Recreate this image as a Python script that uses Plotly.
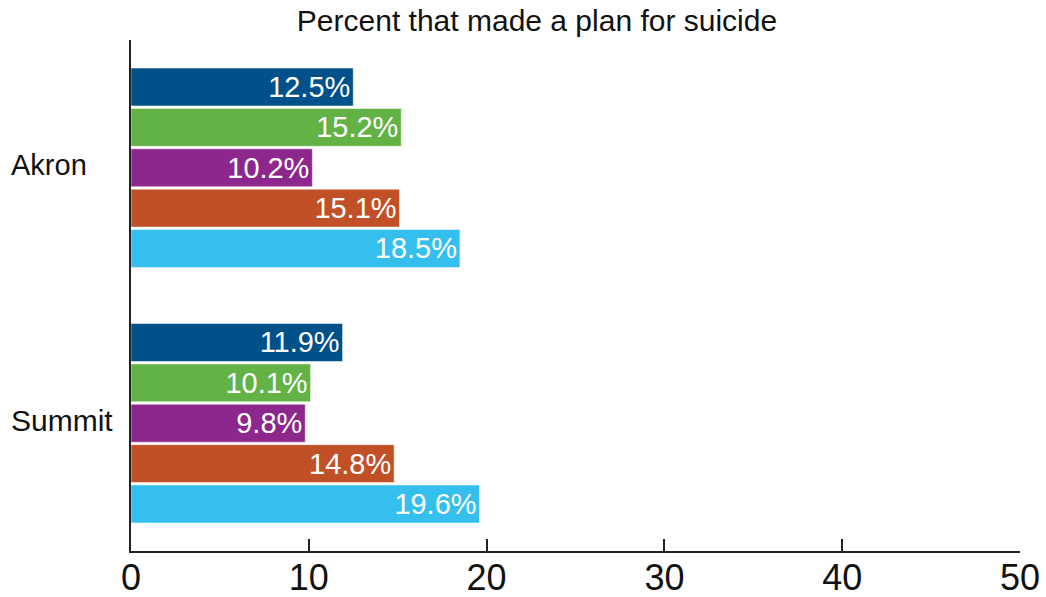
import plotly.graph_objects as go

categories = ["Akron", "Summit"]
series_names = ["Series 1", "Series 2", "Series 3", "Series 4", "Series 5"]
series_values = [
    [12.5, 11.9],
    [15.2, 10.1],
    [10.2, 9.8],
    [15.1, 14.8],
    [18.5, 19.6],
]
colors = ["#00508A", "#63B246", "#8E278D", "#C15027", "#35BFEF"]
title_text = "Percent that made a plan for suicide"
x_ticks = [0, 10, 20, 30, 40, 50]

FONT = "Liberation Sans, Arial"

fig = go.Figure()
for name, vals, col in zip(series_names, series_values, colors):
    fig.add_trace(go.Bar(
        y=categories, x=vals, name=name, orientation="h",
        marker=dict(color=col, line=dict(color="rgba(255,255,255,0.5)", width=1)),
        text=[f"{v:.1f}%" for v in vals],
        textposition="inside", insidetextanchor="end",
        textfont=dict(color="white", size=29, family=FONT),
        hoverinfo="x+y",
    ))

W, H = 1046, 597
ml, mr, mt, mb = 131, 26, 40, 46
for c, fs in zip(categories, [29, 30]):
    fig.add_annotation(
        x=(9 - ml) / (W - ml - mr), xref="paper", y=c, yref="y",
        text=c, showarrow=False, xanchor="left", yanchor="middle", yshift=3,
        font=dict(size=fs, color="#111", family=FONT),
    )

fig.update_layout(
    width=W, height=H,
    margin=dict(l=ml, r=mr, t=mt, b=mb, autoexpand=False),
    barmode="group", bargap=0.21, bargroupgap=0.06,
    showlegend=False,
    plot_bgcolor="white", paper_bgcolor="white",
    title=dict(text=title_text, x=537 / W, xanchor="center",
               y=1 - 20 / H, yanchor="middle",
               font=dict(size=30, color="#111", family=FONT)),
    xaxis=dict(range=[0, 50], tickvals=x_ticks, ticks="inside", ticklen=12, tickwidth=2,
               tickcolor="#222", showline=True, linecolor="#222", linewidth=2,
               showgrid=False, zeroline=False, automargin=False,
               ticklabeloverflow="allow", ticklabelstandoff=-6,
               tickfont=dict(size=36, color="#111", family=FONT)),
    yaxis=dict(autorange="reversed", showticklabels=False, showline=True, linecolor="#222",
               linewidth=2, showgrid=False, zeroline=False, ticks="", automargin=False),
)

fig.write_html("out.html", config={"displayModeBar": False},
               post_script="document.body.style.margin='0px';")
